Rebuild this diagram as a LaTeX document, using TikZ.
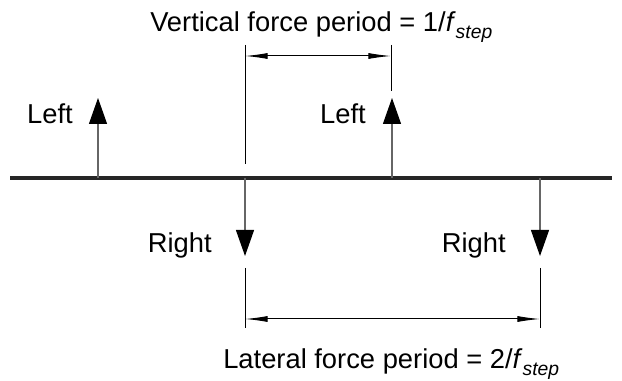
\documentclass[tikz,border=0pt]{standalone}
\usepackage{fontspec}
\setmainfont{Liberation Sans}
\usepackage{tikz}
\usetikzlibrary{arrows.meta, positioning}
\newcommand{\fstep}{\textit{f}\raisebox{-0.42ex}{\fontsize{14.5}{15}\selectfont\itshape step}}

\begin{document}
\begin{tikzpicture}[x=0.75pt, y=0.75pt,
  lbl/.style={font=\fontsize{20.5}{24}\selectfont, inner sep=0pt, anchor=base east},
  title/.style={font=\fontsize{20.5}{24}\selectfont, inner sep=0pt, anchor=base west},
  force/.style={-{Triangle[length=19.5pt, width=13.5pt, color=black]}, line width=0.9pt, draw=black!60},
  ext/.style={line width=0.75pt},
  dim/.style={{Latex[length=17pt, width=4.5pt]}-{Latex[length=17pt, width=4.5pt]}, line width=0.75pt}
]
\useasboundingbox (0,0) rectangle (622,381);

% ground line
\coordinate (g0) at (10,203);
\coordinate (g1) at (612,203);
\draw[line width=2.3pt, black!85] (g0) -- (g1);

% footfalls on the ground line and arrow tips
\coordinate (l1) at (98,203);  \coordinate (l1t) at (98,283);
\coordinate (l2) at (392,203); \coordinate (l2t) at (392,283);
\coordinate (r1) at (245,203); \coordinate (r1t) at (245,125);
\coordinate (r2) at (540,203); \coordinate (r2t) at (540,125);

\draw[force] (l1) -- (l1t);
\draw[force] (l2) -- (l2t);
\draw[force] (r1) -- (r1t);
\draw[force] (r2) -- (r2t);

\node[lbl] (left1) at (73,257) {Left};
\node[lbl] (left2) at (366,257) {Left};
\node[lbl] (right1) at (212,128) {Right};
\node[lbl] (right2) at (506,128) {Right};

% vertical force period
\coordinate (va) at (245,336); \coordinate (vab) at (245,217);
\coordinate (vb) at (391,336); \coordinate (vbb) at (391,290);
\coordinate (vd1) at (245,325); \coordinate (vd2) at (391,325);
\draw[ext] (va) -- (vab);
\draw[ext] (vb) -- (vbb);
\draw[dim] (vd1) -- (vd2);
\node[title] (vtext) at (150,349) {Vertical force period = 1/\fstep};

% lateral force period
\coordinate (la) at (245,113); \coordinate (lab) at (245,53);
\coordinate (lb) at (540,113); \coordinate (lbb) at (540,53);
\coordinate (ld1) at (245,62); \coordinate (ld2) at (540,62);
\draw[ext] (la) -- (lab);
\draw[ext] (lb) -- (lbb);
\draw[dim] (ld1) -- (ld2);
\node[title] (ltext) at (223,12) {Lateral force period = 2/\fstep};
\end{tikzpicture}
\end{document}
